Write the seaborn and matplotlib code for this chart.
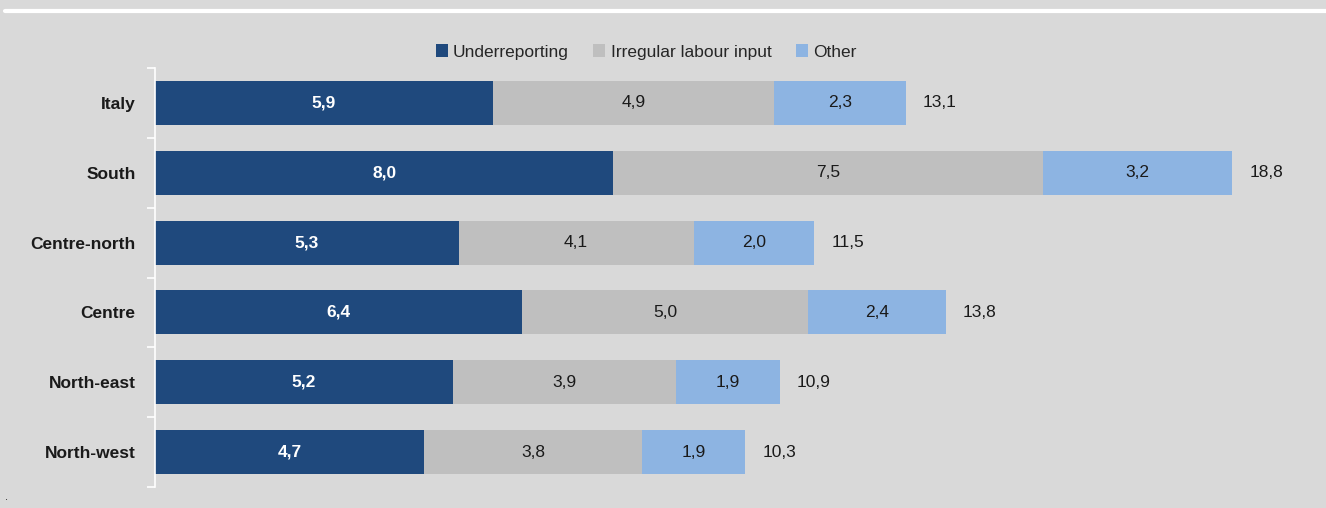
import numpy as np
import pandas as pd
import matplotlib
matplotlib.use("Agg")
import matplotlib.pyplot as plt
import seaborn as sns
from matplotlib.patches import Patch

regions = ["Italy", "South", "Centre-north", "Centre", "North-east", "North-west"]
underreporting = [5.9, 8.0, 5.3, 6.4, 5.2, 4.7]
irregular = [4.9, 7.5, 4.1, 5.0, 3.9, 3.8]
other = [2.3, 3.2, 2.0, 2.4, 1.9, 1.9]
totals = [13.1, 18.8, 11.5, 13.8, 10.9, 10.3]

serie = ["Underreporting", "Irregular labour input", "Other"]
spalvos = ["#1F497D", "#BFBFBF", "#8DB4E2"]
fonas = "#D9D9D9"

sns.set_theme(style="white")
plt.rcParams["font.family"] = ["Liberation Sans Narrow", "Liberation Sans", "DejaVu Sans"]

df = pd.DataFrame({"region": regions, "u": underreporting, "i": irregular,
                   "o": other, "tot": totals})
df["ui"] = df["u"] + df["i"]

fig = plt.figure(figsize=(13.26, 5.08), dpi=100, facecolor=fonas)
ax = fig.add_axes([155 / 1326, 21 / 508, 1146 / 1326, 419 / 508])
ax.set_facecolor(fonas)

# sukrautos juostos: didziausia pirma, tada mazesnes ant virsaus
for stulp, sp in zip(["tot", "ui", "u"], spalvos[::-1]):
    sns.barplot(data=df, x=stulp, y="region", color=sp, orient="h",
                width=0.63, saturation=1, ax=ax, edgecolor="none", linewidth=0)

def kablelis(v):
    return f"{v:.1f}".replace(".", ",")

# reiksmes juostose
for k, r in df.iterrows():
    ax.text(r["u"] / 2, k, kablelis(r["u"]), color="white",
            fontsize=12.5, fontweight="bold", ha="center", va="center")
    ax.text(r["u"] + r["i"] / 2, k, kablelis(r["i"]), color="#1a1a1a",
            fontsize=12.5, ha="center", va="center")
    ax.text((r["ui"] + r["tot"]) / 2, k, kablelis(r["o"]), color="#1a1a1a",
            fontsize=12.5, ha="center", va="center")
    ax.text(r["tot"] + 0.3, k, kablelis(r["tot"]), color="#1a1a1a",
            fontsize=12.5, ha="left", va="center")

ax.set_xlim(0, 20)
ax.set_ylim(5.5, -0.5)
ax.set_xlabel("")
ax.set_ylabel("")
ax.set_xticks([])
ax.set_yticks(np.arange(-0.5, 6, 1), minor=True)
ax.set_yticks(range(len(regions)))
ax.set_yticklabels(regions, fontsize=12.5, fontweight="bold", color="#1a1a1a")
ax.tick_params(axis="y", which="major", length=0, pad=14)
ax.tick_params(axis="y", which="minor", left=True, length=6, width=1.2,
               color="white", direction="out")
for s in ["top", "right", "bottom"]:
    ax.spines[s].set_visible(False)
ax.spines["left"].set_color("white")
ax.spines["left"].set_linewidth(1.2)

rankenos = [Patch(facecolor=c, edgecolor="none") for c in spalvos]
fig.legend(rankenos, serie, loc="center", bbox_to_anchor=(646 / 1326, 1 - 52 / 508),
           ncol=3, frameon=False, fontsize=12.5, handlelength=0.7, handleheight=0.7,
           handletextpad=0.3, columnspacing=1.4)

# balta linija virsuje
fig.add_artist(plt.Line2D([5 / 1326, 1], [1 - 11 / 508, 1 - 11 / 508], color="white", lw=3))
fig.text(5 / 1326, 1 - 500 / 508, ".", fontsize=8, color="#1a1a1a")

fig.savefig("out.png", dpi=100, facecolor=fonas)
